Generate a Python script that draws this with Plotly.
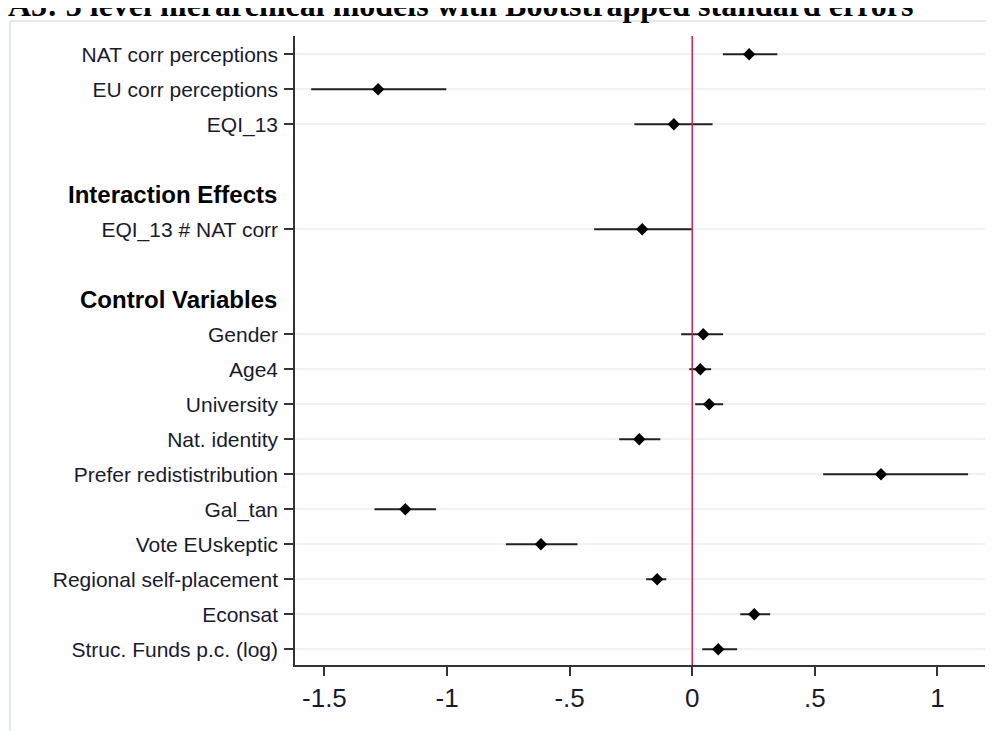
import plotly.graph_objects as go

# ---- data ----
row_order = ["NAT corr perceptions", "EU corr perceptions", "EQI_13", " ",
             "Interaction Effects", "EQI_13 # NAT corr", "  ",
             "Control Variables", "Gender", "Age4", "University", "Nat. identity",
             "Prefer redististribution", "Gal_tan", "Vote EUskeptic",
             "Regional self-placement", "Econsat", "Struc. Funds p.c. (log)"]
headings = ["Interaction Effects", "Control Variables"]
coef_names = ["NAT corr perceptions", "EU corr perceptions", "EQI_13",
              "EQI_13 # NAT corr", "Gender", "Age4", "University", "Nat. identity",
              "Prefer redististribution", "Gal_tan", "Vote EUskeptic",
              "Regional self-placement", "Econsat", "Struc. Funds p.c. (log)"]
estimate = [0.232, -1.281, -0.075, -0.204, 0.045, 0.033, 0.069, -0.216,
            0.770, -1.170, -0.617, -0.143, 0.253, 0.106]
ci_low = [0.125, -1.554, -0.236, -0.400, -0.045, -0.012, 0.012, -0.298,
          0.534, -1.296, -0.760, -0.188, 0.196, 0.041]
ci_high = [0.347, -1.003, 0.083, -0.002, 0.126, 0.077, 0.126, -0.130,
           1.125, -1.045, -0.468, -0.106, 0.318, 0.183]
x_tickvals = [-1.5, -1, -0.5, 0, 0.5, 1]
x_ticktext = ["-1.5", "-1", "-.5", "0", ".5", "1"]
title_text = "A5: 3 level hierarchical models with Bootstrapped standard errors"

# page offset of the plot div (default body margin)
OFF = 8
W, H = 994 - OFF, 731 - OFF
ML, MR, MT, MB = 295 - OFF, 9, 36 - OFF, 66
pw, ph = W - ML - MR, H - MT - MB

def px_x(p):  # page pixel -> paper x
    return (p - OFF - ML) / pw

def px_y(p):  # page pixel -> paper y
    return (H - MB - (p - OFF)) / ph

fig = go.Figure()
fig.add_trace(go.Scatter(
    x=estimate, y=coef_names, mode="markers",
    marker=dict(symbol="diamond", size=9.5, color="black"),
    error_x=dict(type="data", symmetric=False,
                 array=[h - e for h, e in zip(ci_high, estimate)],
                 arrayminus=[e - l for e, l in zip(estimate, ci_low)],
                 width=0, thickness=2, color="#222222"),
    showlegend=False, hoverinfo="x+y", cliponaxis=False,
))

# reference line at zero
fig.add_shape(type="line", xref="x", yref="paper", x0=0, x1=0, y0=0, y1=1,
              line=dict(color="#d4214f", width=1.5), layer="above")

# outer graph-region border
BORDER_TOP = 21
fig.add_shape(type="line", xref="paper", yref="paper",
              x0=px_x(10), x1=px_x(1000), y0=px_y(BORDER_TOP), y1=px_y(BORDER_TOP),
              line=dict(color="#e3eaee", width=2))
fig.add_shape(type="line", xref="paper", yref="paper",
              x0=px_x(10), x1=px_x(10), y0=px_y(BORDER_TOP), y1=px_y(740),
              line=dict(color="#e3eaee", width=2))

annotations = []
for h in headings:
    annotations.append(dict(text="<b>%s</b>" % h, x=px_x(279), xref="paper",
                            y=h, yref="y", xanchor="right", yanchor="middle",
                            showarrow=False,
                            font=dict(family="Liberation Sans, Arial", size=24, color="black")))
# title, cut at the top edge as in the reference
annotations.append(dict(text="<b>%s</b>" % title_text, x=px_x(6), xref="paper",
                        y=px_y(25), yref="paper", xanchor="left", yanchor="bottom",
                        showarrow=False,
                        font=dict(family="Liberation Serif, Times New Roman", size=32, color="black")))

fig.update_layout(
    width=W, height=H,
    margin=dict(l=ML, r=MR, t=MT, b=MB, pad=0),
    paper_bgcolor="white", plot_bgcolor="white",
    annotations=annotations,
    xaxis=dict(range=[-1.62, 1.194], tickvals=x_tickvals, ticktext=x_ticktext,
               showgrid=False, zeroline=False, showline=True, linecolor="#333333",
               linewidth=1.5, ticks="outside", ticklen=9, tickwidth=1.5,
               tickcolor="#333333",
               tickfont=dict(family="Liberation Sans, Arial", size=26, color="#1a1a2e")),
    yaxis=dict(type="category", categoryorder="array", categoryarray=row_order,
               range=[17.45, -0.52], tickvals=coef_names, ticktext=coef_names,
               showgrid=True, gridcolor="#edf2f4", gridwidth=1.5, zeroline=False,
               showline=True, linecolor="#333333", linewidth=1.5,
               ticks="outside", ticklen=9, tickwidth=1.5, tickcolor="#333333",
               ticklabelstandoff=2,
               tickfont=dict(family="Liberation Sans, Arial", size=21, color="#1a1a2e")),
)

fig.write_html("out.html")
